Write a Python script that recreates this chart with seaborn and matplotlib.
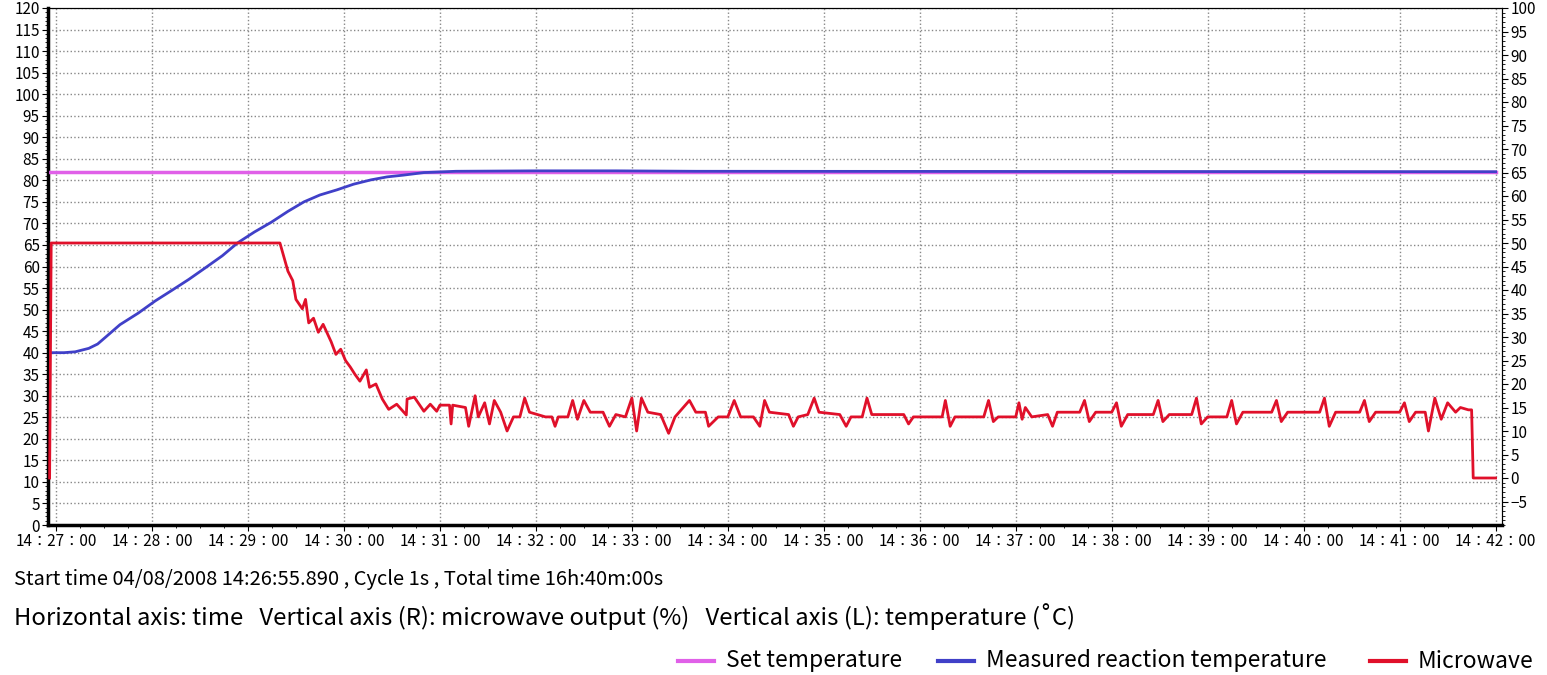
import numpy as np
import pandas as pd
import matplotlib
matplotlib.use("Agg")
import matplotlib.pyplot as plt
import seaborn as sns

# seconds after 14:27:00
set_t = [-4, 900]
set_v = [82, 82]

temp_t = [-4, 5, 12, 20.5, 26, 31, 40, 51.5, 62, 72.6, 83, 93, 104, 113.6, 124, 134.7, 145, 155, 165, 175.7, 186, 196.8, 207, 217, 230, 250, 300, 350, 400, 900]
temp_v = [40, 40, 40.2, 41, 42, 43.6, 46.5, 49.2, 52, 54.5, 57, 59.6, 62.5, 65.5, 68, 70.3, 72.8, 75, 76.6, 77.8, 79.1, 80.1, 80.8, 81.2, 81.8, 82.1, 82.2, 82.2, 82.1, 82]

# microwave output (%), right axis: (seconds, value)
mw_points = [
    (-4, 0), (-3, 50), (140, 50), (145, 44), (148, 42), (150, 38), (154, 36), (156, 38),
    (158, 33), (161, 34), (164, 31), (167, 32.7), (172, 29), (175, 26.3), (178, 27.4),
    (181, 25), (184, 23.6), (187, 22), (190, 20.6), (194, 23), (196, 19.3), (200, 20),
    (204, 16.8), (208, 14.6), (213, 15.7), (219, 13.4), (219.5, 16.8), (224, 17.2),
    (230, 14.2), (234, 15.7), (238, 14.2), (240, 15.5), (246, 15.5), (247, 11.5), (248, 15.5),
    (256, 15), (258, 11), (262, 17.5), (264, 13), (268, 16), (271, 11.5), (274, 16.5), (278, 14),
    (282, 10), (286, 13), (290, 13), (293, 17), (296, 14), (306, 13), (310, 13), (312, 11),
    (314, 13), (320, 13), (323, 16.5), (326, 12.5), (330, 16.5), (334, 14), (342, 14), (346, 11),
    (350, 13.5), (356, 13), (360, 17), (363, 10), (366, 17), (370, 14), (378, 13.5), (383, 9.5),
    (387, 13), (396, 16.5), (400, 14), (406, 14), (408, 11), (414, 13), (420, 13), (424, 16.5),
    (428, 13), (436, 13), (440, 11), (443, 16.5), (446, 14), (458, 13.5), (461, 11), (464, 13),
    (470, 13.5), (474, 17), (477, 14), (490, 13.5), (494, 11), (497, 13), (504, 13), (507, 17),
    (510, 13.5), (530, 13.5), (533, 11.5), (536, 13), (554, 13), (556, 16.5), (559, 11), (562, 13),
    (580, 13), (583, 16.5), (586, 12), (589, 13), (600, 13), (602, 16), (604, 12.5), (606, 15),
    (610, 13), (620, 13.5), (623, 11), (626, 14), (640, 14), (643, 16.5), (646, 12), (650, 14),
    (660, 14), (663, 16), (666, 11), (670, 13.5), (686, 13.5), (689, 16.5), (692, 12), (696, 13.5),
    (710, 13.5), (713, 17), (716, 11.5), (720, 13), (732, 13), (735, 16.5), (738, 11.5), (742, 14),
    (760, 14), (763, 16.5), (766, 12), (770, 14), (790, 14), (793, 17), (796, 11), (800, 14),
    (815, 14), (818, 16.5), (821, 12), (825, 14), (840, 14), (843, 16), (846, 12), (850, 14),
    (856, 14), (858, 10), (862, 17), (866, 12.5), (870, 16), (875, 14), (878, 15), (883, 14.5),
    (885, 14.5), (886, 0), (900, 0),
]
mw_t = [p[0] for p in mw_points]
mw_v = [p[1] for p in mw_points]

plt.rcParams['font.family'] = ['Noto Sans CJK JP', 'DejaVu Sans']
fig = plt.figure(figsize=(15.47, 6.75), dpi=100)
ax = fig.add_axes([48 / 1547, 1 - 525 / 675, 1454 / 1547, 517 / 675])
ax2 = ax.twinx()

sns.lineplot(x=set_t, y=set_v, ax=ax, color='#e060e8', lw=2.5, zorder=3)
sns.lineplot(x=temp_t, y=temp_v, ax=ax, color='#4040c8', lw=2, zorder=4)
sns.lineplot(x=mw_t, y=mw_v, ax=ax2, color='#e0102a', lw=2, sort=False, estimator=None, zorder=5)

ax.set_xlim(-5, 904)
ax.set_ylim(0, 120)
ax2.set_ylim(-10, 100)
ax.set_yticks(np.arange(0, 121, 5))
ax2.set_yticks(np.arange(-5, 101, 5))
ax.set_yticks(np.arange(0, 121, 1), minor=True)
ax2.set_yticks(np.arange(-10, 101, 1), minor=True)
xt = np.arange(0, 901, 60)
ax.set_xticks(xt)
ax.set_xticks(np.arange(0, 901, 15), minor=True)
ax.set_xticklabels([f"14：{27 + i:02d}：00" for i in range(len(xt))])
ax.grid(True, which='major', color='#888888', ls=':', lw=1)
for lab in ax.get_yticklabels() + ax2.get_yticklabels():
    lab.set_fontsize(11)
for lab in ax.get_xticklabels():
    lab.set_fontsize(11)
ax.tick_params(length=4, pad=2)
ax2.tick_params(length=4, pad=2)
ax.tick_params(which='minor', length=2)
ax2.tick_params(which='minor', length=2)
for a in (ax, ax2):
    for s in a.spines.values():
        s.set_linewidth(0.8)
ax.spines['left'].set_linewidth(2.5)
ax.spines['bottom'].set_linewidth(2.5)
ax.set_xlabel('')
ax.set_ylabel('')
ax2.set_ylabel('')

fig.text(14 / 1547, 1 - 579 / 675, "Start time 04/08/2008 14:26:55.890 , Cycle 1s , Total time 16h:40m:00s",
         fontsize=14.5, va='center')
fig.text(14 / 1547, 1 - 617 / 675,
         "Horizontal axis: time   Vertical axis (R): microwave output (%)   Vertical axis (L): temperature (˚C)",
         fontsize=17.2, va='center')
items = [(678, '#e060e8', 'Set temperature'), (938, '#4040c8', 'Measured reaction temperature'),
         (1370, '#e0102a', 'Microwave')]
for x0, c, t in items:
    fig.add_artist(plt.Line2D([x0 / 1547, (x0 + 36) / 1547], [1 - 661 / 675] * 2, color=c, lw=3))
    fig.text((x0 + 48) / 1547, 1 - 661 / 675, t, fontsize=16.5, va='center')

fig.savefig('out.png', dpi=100)
